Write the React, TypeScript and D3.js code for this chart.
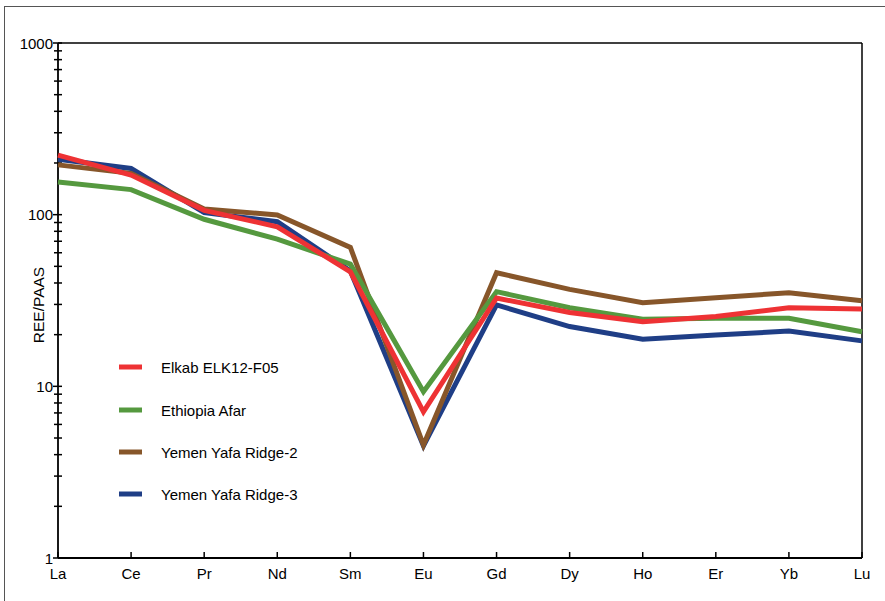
import React from "react";
import * as d3 from "d3";

const elements = ["La", "Ce", "Pr", "Nd", "Sm", "Eu", "Gd", "Dy", "Ho", "Er", "Yb", "Lu"];

const elkab = [222, 170, 106, 85, 46.5, 7.1, 32.7, 26.9, 23.8, 25.5, 28.7, 28.2];
const ethiopia = [155, 140, 94, 72, 51.5, 9.3, 35.6, 28.7, 24.6, 24.9, 24.9, 20.8];
const yemen2 = [195, 174, 108, 99.5, 64.5, 4.55, 45.9, 36.7, 30.7, 32.8, 35.1, 31.5];
const yemen3 = [210, 186, 102.7, 91, 47, 4.5, 29.8, 22.3, 18.8, 19.9, 21, 18.4];

const seriesNames = ["Elkab ELK12-F05", "Ethiopia Afar", "Yemen Yafa Ridge-2", "Yemen Yafa Ridge-3"];
const seriesColors = ["#EE3234", "#55993F", "#87562A", "#1F3E86"];
const yTickLabels = [1, 10, 100, 1000];

export default function App() {
  const W = 885, H = 601;
  const left = 58, right = 862, top = 43, bottom = 558;
  const x = d3.scalePoint<string>().domain(elements).range([left, right]);
  const y = d3.scaleLog().domain([1, 1000]).range([bottom, top]);
  const line = d3.line<number>().x((_, i) => x(elements[i]) as number).y((d) => y(d));
  const allSeries = [elkab, ethiopia, yemen2, yemen3];
  const minor: number[] = [];
  for (let dec = 1; dec < 1000; dec *= 10) for (let k = 2; k <= 9; k++) minor.push(dec * k);
  const font = "'Liberation Sans', Arial, Helvetica, sans-serif";
  const legendY = [367, 410, 452, 494];

  return (
    <svg width={W} height={H} style={{ position: "absolute", left: 0, top: 0, background: "#fff" }} fontFamily={font}>
      <rect x={4.5} y={6.5} width={W + 10} height={H + 10} fill="none" stroke="#555" strokeWidth={1} />
      {/* plot box */}
      <line x1={left} x2={right} y1={top} y2={top} stroke="#000" strokeWidth={1.5} />
      <line x1={right} x2={right} y1={top} y2={bottom} stroke="#000" strokeWidth={1.5} />
      <line x1={left} x2={left} y1={top} y2={bottom} stroke="#000" strokeWidth={1.8} />
      <line x1={left} x2={right} y1={bottom} y2={bottom} stroke="#000" strokeWidth={1.8} />
      {/* y ticks */}
      {yTickLabels.map((v) => (
        <g key={"y" + v}>
          <line x1={left - 5} x2={left + 4} y1={y(v)} y2={y(v)} stroke="#000" strokeWidth={1.5} />
          <text x={left - 5} y={y(v) + 5.5} textAnchor="end" fontSize={15}>{v}</text>
        </g>
      ))}
      {minor.map((v) => (
        <line key={"m" + v} x1={left - 4} x2={left + 4} y1={y(v)} y2={y(v)} stroke="#000" strokeWidth={1.5} />
      ))}
      {/* x ticks */}
      {elements.map((e) => (
        <g key={e}>
          <line x1={x(e)} x2={x(e)} y1={bottom} y2={bottom - 6} stroke="#000" strokeWidth={1.5} />
          <text x={x(e)} y={bottom + 21} textAnchor="middle" fontSize={15}>{e}</text>
        </g>
      ))}
      <text transform={`translate(44,305) rotate(-90)`} textAnchor="middle" fontSize={15.5}>REE/PAAS</text>
      {/* series */}
      {[3, 2, 1, 0].map((i) => (
        <path key={"s" + i} d={line(allSeries[i]) || ""} fill="none" stroke={seriesColors[i]} strokeWidth={5} strokeLinejoin="miter" />
      ))}
      {/* legend */}
      {seriesNames.map((n, i) => (
        <g key={n}>
          <line x1={119} x2={142} y1={legendY[i]} y2={legendY[i]} stroke={seriesColors[i]} strokeWidth={5} />
          <text x={161} y={legendY[i] + 5.5} fontSize={15}>{n}</text>
        </g>
      ))}
    </svg>
  );
}
